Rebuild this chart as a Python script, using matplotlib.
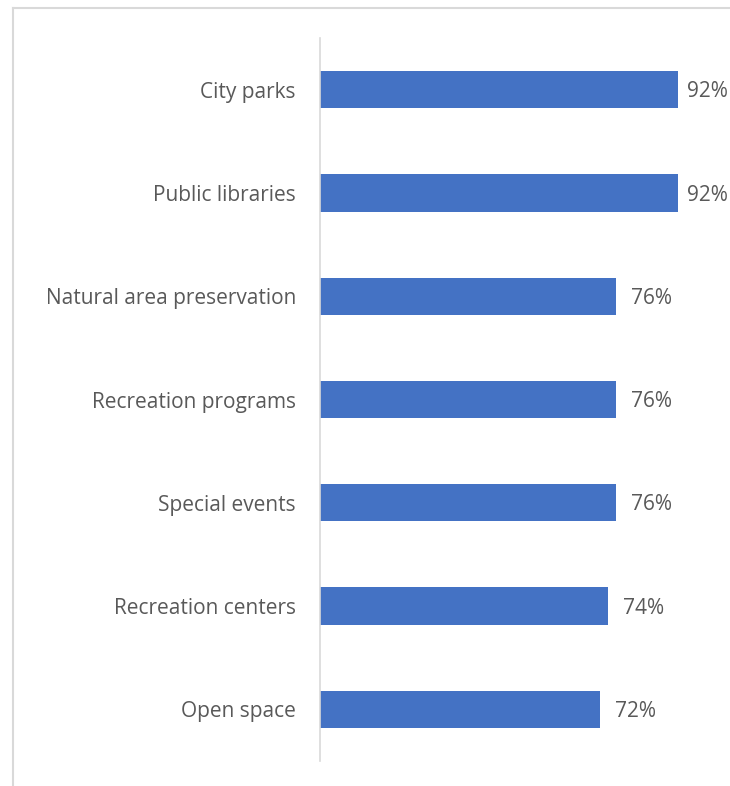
import matplotlib.pyplot as plt
from matplotlib.lines import Line2D

categories = ["City parks", "Public libraries", "Natural area preservation",
              "Recreation programs", "Special events", "Recreation centers",
              "Open space"]
values = [92, 92, 76, 76, 76, 74, 72]
value_labels = ["92%", "92%", "76%", "76%", "76%", "74%", "72%"]

plt.rcParams['font.family'] = ['Open Sans', 'DejaVu Sans']

fig = plt.figure(figsize=(7.3, 7.86), dpi=100)
ax = fig.add_axes([320 / 730, 25 / 786, 389 / 730, 723 / 786])

ypos = list(range(len(categories)))
ax.barh(ypos, values, height=0.36, color="#4472C4")
ax.set_ylim(len(categories) - 0.5, -0.5)
ax.set_xlim(0, 100)

texts = []
for y, v, lab in zip(ypos, values, value_labels):
    t = ax.annotate(lab, (v, y), xytext=(11, -1.5), textcoords="offset points",
                    va="center", ha="left", fontsize=15, color="#595959")
    texts.append(t)

# keep labels inside the chart area, like the office chart does
fig.canvas.draw()
r = fig.canvas.get_renderer()
for t in texts:
    bb = t.get_window_extent(r)
    over = bb.x1 - 728
    if over > 0:
        x0, y0 = t.get_position()
        t.set_position((x0 - over * 0.72, y0))

ax.set_yticks(ypos)
ax.set_yticklabels(categories, fontsize=15, color="#595959")
ax.tick_params(axis="y", length=0, pad=24 * 0.72)
ax.set_xticks([])
for s in ["top", "right", "bottom"]:
    ax.spines[s].set_visible(False)
ax.spines["left"].set_color("#d9d9d9")
ax.spines["left"].set_linewidth(1.2)

# outer chart border (cropped)
fig.add_artist(Line2D([13 / 730, 1], [1 - 8 / 786, 1 - 8 / 786],
                      transform=fig.transFigure, color="#d9d9d9", lw=1.5))
fig.add_artist(Line2D([13 / 730, 13 / 730], [0, 1 - 8 / 786],
                      transform=fig.transFigure, color="#d9d9d9", lw=1.5))

fig.savefig("out.png", dpi=100)
